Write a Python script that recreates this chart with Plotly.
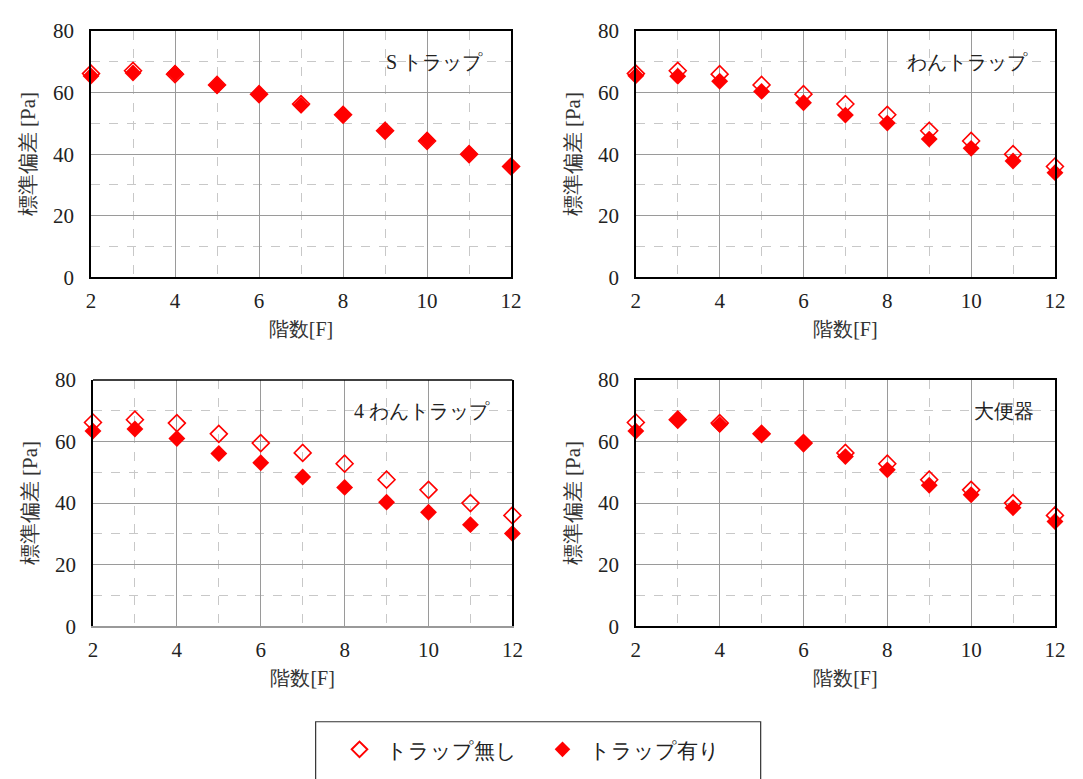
import plotly.graph_objects as go

floors = [2, 3, 4, 5, 6, 7, 8, 9, 10, 11, 12]

# トラップ無し (common)
no_trap = [66.2, 67.1, 66.0, 62.5, 59.5, 56.3, 52.8, 47.6, 44.3, 40.0, 36.0]

# トラップ有り per panel
s_trap = [65.4, 66.4, 66.3, 62.4, 59.5, 55.9, 52.9, 47.5, 44.5, 40.1, 36.1]
wan_trap = [65.5, 65.3, 63.7, 60.4, 56.7, 52.7, 50.1, 44.9, 41.9, 37.8, 34.0]
wan4_trap = [63.4, 64.1, 61.0, 56.1, 53.1, 48.5, 45.1, 40.3, 37.0, 33.0, 30.1]
toilet = [63.4, 67.1, 65.5, 62.4, 59.5, 55.1, 50.8, 45.8, 42.7, 38.5, 34.0]

panel_titles = ["S トラップ", "わんトラップ", "4 わんトラップ", "大便器"]
panel_with = [s_trap, wan_trap, wan4_trap, toilet]

y_ticks = [0, 20, 40, 60, 80]
x_ticks = [2, 4, 6, 8, 10, 12]

W, H = 1083, 779
FONT = "Liberation Serif"
RED = "#ff0000"


def px(X):
    return X / W


def py(Y):
    return 1 - Y / H


# pixel boxes (left, right, top, bottom)
boxes = [
    (87.3, 513.7, 19.7, 273.7),
    (640.3, 1065.7, 19.7, 273.7),
    (89.3, 515.0, 379.7, 633.7),
    (640.3, 1065.7, 379.7, 633.7),
]
label_x = [0.939, 0.941, 0.952, 0.954]

fig = go.Figure()
layout = {}
annotations = []
shapes = []
for i, (title, with_vals) in enumerate(zip(panel_titles, panel_with)):
    n = "" if i == 0 else str(i + 1)
    xa, ya = "x" + n, "y" + n
    fig.add_trace(go.Scatter(
        x=floors, y=no_trap, mode="markers", name="トラップ無し", cliponaxis=False,
        marker=dict(symbol="diamond-open", size=13, color=RED, line=dict(width=1.6, color=RED)),
        xaxis=xa, yaxis=ya, showlegend=(i == 0), legendgroup="no",
    ))
    fig.add_trace(go.Scatter(
        x=floors, y=with_vals, mode="markers", name="トラップ有り", cliponaxis=False,
        marker=dict(symbol="diamond", size=13, color=RED, line=dict(width=0)),
        xaxis=xa, yaxis=ya, showlegend=(i == 0), legendgroup="yes",
    ))
    l, r, t, b = boxes[i]
    xline = "#999999" if i == 2 else "black"
    layout["xaxis" + n] = dict(
        domain=[px(l), px(r)], anchor=ya, range=[2, 12],
        tickvals=x_ticks, showline=True, linecolor=xline, linewidth=1.5,
        mirror=(i != 2), ticks="", ticklabelstandoff=4,
        showgrid=True, gridcolor="#9a9a9a", gridwidth=1,
        minor=dict(dtick=1, tick0=2, showgrid=True, gridcolor="#c8c8c8", griddash="dash", gridwidth=1),
        tickfont=dict(family=FONT, size=21, color="#222"),
        title=dict(text="階数[F]", font=dict(family=FONT, size=20, color="#333"), standoff=10),
        zeroline=False, fixedrange=True,
    )
    layout["yaxis" + n] = dict(
        domain=[py(b), py(t)], anchor=xa, range=[0, 80],
        tickvals=y_ticks, showline=True, linecolor="black", linewidth=1.5,
        mirror=True, ticks="", ticklabelstandoff=11,
        showgrid=True, gridcolor="#9a9a9a", gridwidth=1,
        minor=dict(dtick=10, showgrid=True, gridcolor="#c8c8c8", griddash="dash", gridwidth=1),
        tickfont=dict(family=FONT, size=21, color="#222"),
        title=dict(text="標準偏差 [Pa]", font=dict(family=FONT, size=21, color="#333"), standoff=12),
        zeroline=False, fixedrange=True,
    )
    if i == 2:
        shapes.append(dict(type="line", xref="x3 domain", yref="y3 domain",
                           x0=0, x1=1, y0=1, y1=1, line=dict(color="black", width=1.5)))
    annotations.append(dict(
        text=title, xref=xa + " domain", yref=ya + " domain",
        x=label_x[i], y=0.875, xanchor="right", yanchor="middle",
        showarrow=False, font=dict(family=FONT, size=20, color="#222"),
    ))

# legend frame
shapes.append(dict(type="rect", xref="paper", yref="paper",
                   x0=px(315.3), x1=px(767), y0=py(800), y1=py(732.3),
                   line=dict(color="#333", width=1.2), fillcolor="rgba(0,0,0,0)"))

fig.update_layout(
    width=W, height=H,
    margin=dict(l=0, r=0, t=0, b=0),
    paper_bgcolor="white", plot_bgcolor="white",
    showlegend=True,
    legend=dict(
        orientation="h", x=px(332.4), xanchor="left", y=py(740), yanchor="top",
        font=dict(family=FONT, size=21, color="#222"),
        entrywidth=144, entrywidthmode="pixels", itemwidth=44,
        bgcolor="rgba(0,0,0,0)", borderwidth=0, itemsizing="constant",
    ),
    annotations=annotations, shapes=shapes,
    **layout,
)

fig.write_html("out.html")
